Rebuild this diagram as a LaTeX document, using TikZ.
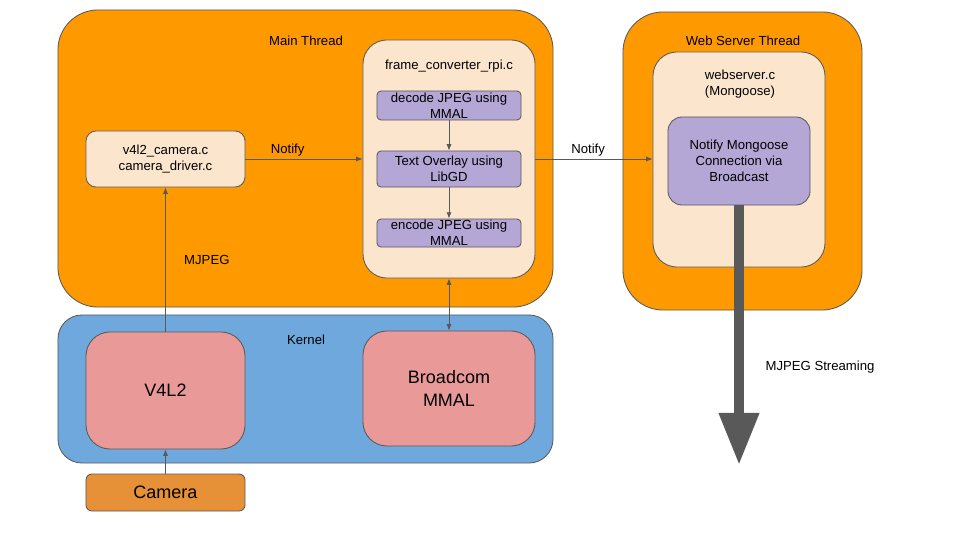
\documentclass[tikz,border=0pt]{standalone}
\usepackage{fontspec}
\setmainfont{Liberation Sans}
\usepackage{tikz}
\usetikzlibrary{arrows.meta,positioning,calc}
\definecolor{thread}{HTML}{FF9900}
\definecolor{peach}{HTML}{FCE5CD}
\definecolor{lavender}{HTML}{B4A7D6}
\definecolor{kernelblue}{HTML}{6FA8DC}
\definecolor{rose}{HTML}{EA9999}
\definecolor{camorange}{HTML}{E69138}
\definecolor{linegray}{HTML}{595959}
\begin{document}
\begin{tikzpicture}[x=0.025cm,y=-0.025cm,
  box/.style={draw=linegray,line width=0.6pt,align=center,inner sep=0pt,
    font=\fontsize{9.35}{11.3}\selectfont},
  bigbox/.style={box,font=\fontsize{12.8}{16.3}\selectfont},
  lbl/.style={font=\fontsize{9.35}{11.3}\selectfont,align=center,inner sep=0pt},
  conn/.style={draw=linegray,line width=0.6pt,-{Latex[length=4.5pt,width=3.6pt]}}]
\useasboundingbox (0,0) rectangle (960,540);
% threads and kernel
\node[box,fill=thread,rounded corners=1cm,minimum width=12.375cm,minimum height=7.425cm] (main) at (305.5,158.5) {};
\node[box,fill=thread,rounded corners=1cm,minimum width=5.975cm,minimum height=7.45cm] (web) at (742.5,161) {};
\node[box,fill=kernelblue,rounded corners=0.6cm,minimum width=12.375cm,minimum height=3.7cm] (kernel) at (305.5,389) {};
\node[lbl] (mainlbl) at (306,41) {Main Thread};
\node[lbl] (weblbl) at (743,41) {Web Server Thread};
\node[lbl] (kernellbl) at (306,340) {Kernel};
% main thread
\node[box,fill=peach,rounded corners=0.25cm,minimum width=3.975cm,minimum height=1.4cm] (drv) at (165.5,159) {v4l2\_camera.c\\camera\_driver.c};
\node[box,fill=peach,rounded corners=0.6cm,minimum width=4.3cm,minimum height=5.95cm] (conv) at (449,159) {};
\node[lbl] (convlbl) at (449,66) {frame\_converter\_rpi.c};
\node[box,fill=lavender,rounded corners=0.1cm,minimum width=3.6cm,minimum height=0.725cm] (decode) at (449,105.5) {decode JPEG using\\MMAL};
\node[box,fill=lavender,rounded corners=0.1cm,minimum width=3.6cm,minimum height=0.9cm] (overlay) at (449,169) {Text Overlay using\\LibGD};
\node[box,fill=lavender,rounded corners=0.1cm,minimum width=3.6cm,minimum height=0.7cm] (encode) at (449,233) {encode JPEG using\\MMAL};
% web server thread
\node[box,fill=peach,rounded corners=0.6cm,minimum width=4.3cm,minimum height=5.375cm] (webc) at (739,159.5) {};
\node[lbl] (webclbl) at (740,84) {webserver.c\\(Mongoose)};
\node[box,fill=lavender,rounded corners=0.35cm,minimum width=3.55cm,minimum height=2.2cm] (notify) at (739,161) {Notify Mongoose\\Connection via\\Broadcast};
% kernel
\node[bigbox,fill=rose,rounded corners=0.6cm,minimum width=3.975cm,minimum height=2.925cm] (v4l2) at (165.5,390.5) {V4L2};
\node[bigbox,fill=rose,rounded corners=0.6cm,minimum width=4.3cm,minimum height=2.875cm] (mmal) at (449,388.5) {Broadcom\\MMAL};
\node[bigbox,fill=camorange,rounded corners=0.15cm,minimum width=3.975cm,minimum height=0.925cm] (camera) at (165.5,492.5) {Camera};
% connectors
\draw[conn] (drv.east) -- node[lbl,above=2pt,pos=0.36] {Notify} (drv.east -| conv.west);
\draw[conn] (conv.east |- drv.east) -- node[lbl,above=2pt,pos=0.45] {Notify} (drv.east -| webc.west);
\draw[conn] (decode) -- (overlay);
\draw[conn] (overlay) -- (encode);
\draw[conn] (v4l2) -- node[lbl,right=13pt] {MJPEG} (drv);
\draw[conn] (camera) -- (v4l2);
\draw[conn,{Latex[length=4.5pt,width=3.6pt]}-{Latex[length=4.5pt,width=3.6pt]}] (conv) -- (mmal);
% streaming
\coordinate (streamend) at (739,465);
\draw[draw=linegray,line width=0.25cm,-{Triangle[length=1.3cm,width=0.95cm]}] (notify.south) -- (streamend);
\node[lbl] (streamlbl) at (820,367) {MJPEG Streaming};
\end{tikzpicture}
\end{document}
